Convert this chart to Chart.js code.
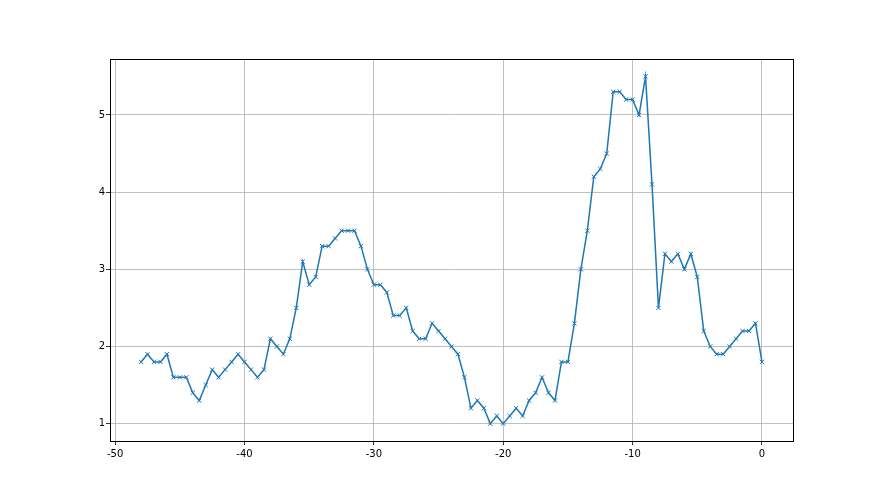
<!DOCTYPE html>
<html>
<head>
<meta charset="utf-8">
<script src="https://cdn.jsdelivr.net/npm/chart.js@4/dist/chart.umd.min.js"></script>
<style>
  html, body { margin: 0; padding: 0; background: #fff; }
</style>
</head>
<body>
<canvas id="chart" width="880" height="495"></canvas>
<script>
// x positions, every half unit from -48 to 0
const xValues = [
  -48, -47.5, -47, -46.5, -46, -45.5, -45, -44.5, -44, -43.5,
  -43, -42.5, -42, -41.5, -41, -40.5, -40, -39.5, -39, -38.5,
  -38, -37.5, -37, -36.5, -36, -35.5, -35, -34.5, -34, -33.5,
  -33, -32.5, -32, -31.5, -31, -30.5, -30, -29.5, -29, -28.5,
  -28, -27.5, -27, -26.5, -26, -25.5, -25, -24.5, -24, -23.5,
  -23, -22.5, -22, -21.5, -21, -20.5, -20, -19.5, -19, -18.5,
  -18, -17.5, -17, -16.5, -16, -15.5, -15, -14.5, -14, -13.5,
  -13, -12.5, -12, -11.5, -11, -10.5, -10, -9.5, -9, -8.5,
  -8, -7.5, -7, -6.5, -6, -5.5, -5, -4.5, -4, -3.5,
  -3, -2.5, -2, -1.5, -1, -0.5, 0
];

const yValues = [
  1.8, 1.9, 1.8, 1.8, 1.9, 1.6, 1.6, 1.6, 1.4, 1.3,
  1.5, 1.7, 1.6, 1.7, 1.8, 1.9, 1.8, 1.7, 1.6, 1.7,
  2.1, 2.0, 1.9, 2.1, 2.5, 3.1, 2.8, 2.9, 3.3, 3.3,
  3.4, 3.5, 3.5, 3.5, 3.3, 3.0, 2.8, 2.8, 2.7, 2.4,
  2.4, 2.5, 2.2, 2.1, 2.1, 2.3, 2.2, 2.1, 2.0, 1.9,
  1.6, 1.2, 1.3, 1.2, 1.0, 1.1, 1.0, 1.1, 1.2, 1.1,
  1.3, 1.4, 1.6, 1.4, 1.3, 1.8, 1.8, 2.3, 3.0, 3.5,
  4.2, 4.3, 4.5, 5.3, 5.3, 5.2, 5.2, 5.0, 5.5, 4.1,
  2.5, 3.2, 3.1, 3.2, 3.0, 3.2, 2.9, 2.2, 2.0, 1.9,
  1.9, 2.0, 2.1, 2.2, 2.2, 2.3, 1.8
];

const xTicks = [-50, -40, -30, -20, -10, 0];
const yTicks = [1, 2, 3, 4, 5];

const points = xValues.map((x, i) => ({ x: x, y: yValues[i] }));

// matplotlib style box around the plot
const frame = {
  id: 'frame',
  afterDraw(chart) {
    const a = chart.chartArea;
    const ctx = chart.ctx;
    ctx.save();
    ctx.strokeStyle = '#000';
    ctx.lineWidth = 1;
    ctx.strokeRect(Math.round(a.left) + 0.5, Math.round(a.top) + 0.5,
      Math.round(a.right - a.left), Math.round(a.bottom - a.top));
    ctx.restore();
  }
};

const tickFont = { family: 'DejaVu Sans', size: 10 };

new Chart(document.getElementById('chart').getContext('2d'), {
  type: 'scatter',
  data: {
    datasets: [{
      data: points,
      showLine: true,
      borderColor: '#1f77b4',
      borderWidth: 1.5,
      backgroundColor: '#1f77b4',
      pointStyle: 'crossRot',
      pointRadius: 3,
      pointBorderWidth: 1,
      pointHoverRadius: 3
    }]
  },
  options: {
    responsive: false,
    animation: false,
    events: [],
    layout: { padding: { left: 0, top: 59, right: 87, bottom: 0 } },
    plugins: {
      legend: { display: false },
      tooltip: { enabled: false }
    },
    scales: {
      x: {
        type: 'linear',
        min: -50.4,
        max: 2.4,
        afterBuildTicks: axis => { axis.ticks = xTicks.map(v => ({ value: v })); },
        afterFit: axis => { axis.height = 54; },
        grid: { color: '#b0b0b0', lineWidth: 0.8, tickColor: '#000', tickLength: 4 },
        border: { display: false },
        ticks: { color: '#000', font: tickFont, padding: 3, maxRotation: 0 }
      },
      y: {
        type: 'linear',
        min: 0.775,
        max: 5.725,
        afterBuildTicks: axis => { axis.ticks = yTicks.map(v => ({ value: v })); },
        afterFit: axis => { axis.width = 110; },
        grid: { color: '#b0b0b0', lineWidth: 0.8, tickColor: '#000', tickLength: 4 },
        border: { display: false },
        ticks: { color: '#000', font: tickFont, padding: 1 }
      }
    }
  },
  plugins: [frame]
});
</script>
</body>
</html>
